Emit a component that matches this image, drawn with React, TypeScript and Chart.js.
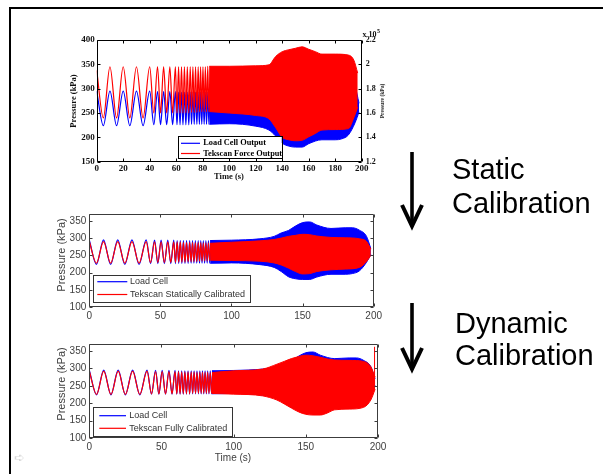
import React, { useEffect, useRef } from 'react';
import { Chart, registerables } from 'chart.js';
Chart.register(...registerables);

// ================= DATA =================
// Sine sweep section (0-85 s): times of the visible peaks / troughs
const sweepTimes = [
  0, 5, 10, 15, 20, 25, 30, 35, 40, 43.1, 45.9, 48.2, 50.5, 52.8, 55.2, 57.3, 59.4,
  60.6, 61.8, 62.9, 64.0, 65.1, 66.2, 67.3, 68.4, 69.5, 70.6, 71.6, 72.6, 73.6, 74.6,
  75.6, 76.6, 77.5, 78.4, 79.3, 80.2, 81.1, 82.0, 82.9, 83.8, 84.7, 85.5,
];
const loadCellSweep = [
  295, 224, 295, 224, 295, 224, 295, 224, 295, 226, 294, 226, 294, 226, 294, 226, 294,
  226, 293, 226, 293, 226, 293, 226, 293, 226, 293, 227, 293, 227, 293,
  227, 293, 227, 293, 227, 293, 227, 293, 227, 293, 227, 293,
];
const tekscanRawSweep = [
  1.95, 1.56, 1.98, 1.56, 1.98, 1.56, 1.98, 1.56, 1.98, 1.6, 1.98, 1.6, 1.98, 1.6, 1.98, 1.6, 1.98,
  1.6, 1.98, 1.6, 1.98, 1.6, 1.98, 1.6, 1.98, 1.6, 1.98, 1.605, 1.98, 1.605, 1.98,
  1.605, 1.98, 1.61, 1.98, 1.61, 1.98, 1.61, 1.98, 1.61, 1.984, 1.612, 1.984,
];
const tekscanStaticSweep = [
  290, 227, 290, 227, 290, 227, 290, 227, 290, 229, 289, 229, 289, 229, 289, 229, 289,
  229, 289, 230, 289, 230, 288, 230, 288, 231, 288, 231, 288, 232, 287,
  232, 287, 233, 287, 233, 286, 234, 286, 234, 286, 235, 285,
];
const tekscanFullSweep = [
  292, 225, 292, 225, 292, 225, 292, 225, 292, 227, 291, 227, 291, 227, 291, 227, 291,
  227, 291, 227, 290, 227, 290, 227, 290, 227, 290, 228, 290, 228, 289,
  228, 289, 228, 289, 228, 289, 228, 289, 228, 288, 228, 288,
];

// Dense section (85-200 s): envelope of the oscillation
const loadCellTimes = [85, 100, 120, 130, 135, 140, 145, 150, 155, 160, 170, 180, 185, 190, 195, 198];
const loadCellUpper = [293, 294, 298, 305, 315, 322, 335, 345, 347, 338, 328, 330, 330, 323, 305, 270];
const loadCellLower = [227, 228, 223, 215, 203, 188, 182, 180, 180, 187, 195, 195, 197, 205, 230, 252];

const tekscanRawTimes = [85, 100, 120, 130, 135, 140, 145, 150, 155, 160, 165, 170, 180, 190, 194, 197];
const tekscanRawUpper = [1.984, 1.984, 1.988, 1.996, 2.064, 2.104, 2.12, 2.132, 2.144, 2.124, 2.104, 2.084, 2.084, 2.076, 2.036, 1.928];
const tekscanRawLower = [1.612, 1.6, 1.58, 1.552, 1.48, 1.4, 1.38, 1.372, 1.376, 1.404, 1.432, 1.46, 1.464, 1.472, 1.56, 1.648];

const tekscanStaticTimes = [85, 100, 120, 130, 135, 140, 145, 150, 155, 160, 170, 180, 190, 195, 198];
const tekscanStaticUpper = [285, 288, 292, 296, 300, 305, 308, 311, 310, 306, 302, 301, 298, 290, 268];
const tekscanStaticLower = [236, 235, 233, 228, 222, 213, 203, 196, 197, 203, 208, 210, 215, 232, 250];

const tekscanFullTimes = [85, 100, 120, 130, 135, 140, 145, 150, 155, 160, 165, 170, 180, 190, 195, 198];
const tekscanFullUpper = [288, 293, 298, 312, 320, 328, 334, 338, 336, 332, 327, 324, 323, 320, 305, 275];
const tekscanFullLower = [228, 226, 221, 209, 198, 186, 175, 168, 166, 166, 172, 181, 183, 188, 209, 240];

// isolated spikes of the fully calibrated trace (pairs: start, end)
const tekscanFullSpikeTimes = [0, 0, 197.6, 197.6];
const tekscanFullSpikeValues = [100, 330, 255, 362];

// Tick values
const panel1TimeTicks = [0, 20, 40, 60, 80, 100, 120, 140, 160, 180, 200];
const panel1PressureTicks = [150, 200, 250, 300, 350, 400];
const panel1RawTicks = [1.2, 1.4, 1.6, 1.8, 2, 2.2];
const panelTimeTicks = [0, 50, 100, 150, 200];
const panelPressureTicks = [100, 150, 200, 250, 300, 350];

// Legend labels
const panel1Legend = ['Load Cell Output', 'Tekscan Force Output'];
const panel2Legend = ['Load Cell', 'Tekscan Statically Calibrated'];
const panel3Legend = ['Load Cell', 'Tekscan Fully Calibrated'];

// ================= STYLE =================
const BLUE = '#0000ff';
const RED = '#ff0000';
const SERIF_B = (s: number) => `bold ${s}px "Liberation Serif", "Times New Roman", serif`;
const SANS = (s: number) => `${s}px "Liberation Sans", Arial, sans-serif`;

const pts = (t: number[], v: number[]) => t.map((x, i) => ({ x, y: v[i] }));

function lineDs(t: number[], v: number[], color: string, extra: any = {}) {
  return {
    data: pts(t, v), borderColor: color, backgroundColor: color, borderWidth: 1.2,
    pointRadius: 0, fill: false, cubicInterpolationMode: 'monotone', ...extra,
  };
}
function bandDs(t: number[], up: number[], lo: number[], color: string, extra: any = {}) {
  return [
    { data: pts(t, up), borderColor: color, backgroundColor: color, borderWidth: 1, pointRadius: 0, fill: '+1', cubicInterpolationMode: 'monotone', ...extra },
    { data: pts(t, lo), borderColor: color, backgroundColor: color, borderWidth: 1, pointRadius: 0, fill: false, cubicInterpolationMode: 'monotone', ...extra },
  ];
}
function spikeDs(t: number[], v: number[], color: string, extra: any = {}) {
  const data: any[] = [];
  for (let i = 0; i < t.length; i += 2) {
    if (i > 0) data.push({ x: (t[i - 1] + t[i]) / 2, y: null });
    data.push({ x: t[i], y: v[i] }, { x: t[i + 1], y: v[i + 1] });
  }
  return { data, borderColor: color, borderWidth: 1, pointRadius: 0, fill: false, spanGaps: false, tension: 0, ...extra };
}

// ================= PLUGINS =================
function boxPlugin(cfg: { color: string; tick: number }) {
  return {
    id: 'matlabBox',
    afterDatasetsDraw(chart: any) {
      const { ctx, chartArea: a, scales } = chart;
      const L = cfg.tick;
      const l = Math.round(a.left) + 0.5, r = Math.round(a.right) - 0.5;
      const tp = Math.round(a.top) + 0.5, b = Math.round(a.bottom) - 0.5;
      ctx.save();
      ctx.strokeStyle = cfg.color;
      ctx.lineWidth = 1;
      ctx.beginPath();
      ctx.rect(l, tp, r - l, b - tp);
      for (const t of scales.x.ticks) {
        const px = Math.round(scales.x.getPixelForValue(t.value)) + 0.5;
        ctx.moveTo(px, b); ctx.lineTo(px, b - L);
        ctx.moveTo(px, tp); ctx.lineTo(px, tp + L);
      }
      for (const t of scales.y.ticks) {
        const py = Math.round(scales.y.getPixelForValue(t.value)) + 0.5;
        ctx.moveTo(l, py); ctx.lineTo(l + L, py);
        if (!scales.y2) { ctx.moveTo(r, py); ctx.lineTo(r - L, py); }
      }
      if (scales.y2) {
        for (const t of scales.y2.ticks) {
          const py = Math.round(scales.y2.getPixelForValue(t.value)) + 0.5;
          ctx.moveTo(r, py); ctx.lineTo(r - L, py);
        }
      }
      ctx.stroke();
      ctx.restore();
    },
  };
}

function legendPlugin(cfg: any) {
  return {
    id: 'matlabLegend',
    afterDraw(chart: any) {
      const ctx = chart.ctx;
      ctx.save();
      ctx.fillStyle = '#fff';
      ctx.fillRect(cfg.x, cfg.y, cfg.w, cfg.h);
      ctx.strokeStyle = cfg.border;
      ctx.lineWidth = 1;
      ctx.strokeRect(Math.round(cfg.x) + 0.5, Math.round(cfg.y) + 0.5, Math.round(cfg.w), Math.round(cfg.h));
      ctx.font = cfg.font;
      ctx.textBaseline = 'middle';
      ctx.textAlign = 'left';
      cfg.labels.forEach((label: string, i: number) => {
        const y = cfg.rows[i];
        ctx.strokeStyle = cfg.colors[i];
        ctx.lineWidth = 1.2;
        ctx.beginPath();
        ctx.moveTo(cfg.x1, y); ctx.lineTo(cfg.x2, y);
        ctx.stroke();
        ctx.fillStyle = cfg.textColor;
        ctx.fillText(label, cfg.tx, y);
      });
      ctx.restore();
    },
  };
}

function textPlugin(items: any[]) {
  return {
    id: 'matlabText',
    afterDraw(chart: any) {
      const ctx = chart.ctx;
      for (const it of items) {
        ctx.save();
        ctx.translate(it.x, it.y);
        if (it.rot) ctx.rotate(it.rot);
        ctx.font = it.font;
        ctx.fillStyle = it.color;
        ctx.textAlign = it.align || 'center';
        ctx.textBaseline = 'middle';
        ctx.fillText(it.text, 0, 0);
        ctx.restore();
      }
    },
  };
}

function parseFont(f: string) {
  const bold = f.startsWith('bold');
  const m = f.match(/([\d.]+)px (.*)$/);
  return { size: m ? parseFloat(m[1]) : 10, family: m ? m[2] : 'sans-serif', weight: bold ? 'bold' : 'normal' };
}

function scale(opts: {
  ticks: number[]; min: number; max: number; font: string; color: string; padding: number;
  size: number; isX?: boolean; position?: string; format?: (v: number) => string;
}) {
  return {
    type: 'linear',
    position: opts.position,
    min: opts.min,
    max: opts.max,
    grid: { display: false, drawTicks: false },
    border: { display: false },
    afterBuildTicks: (s: any) => { s.ticks = opts.ticks.map((v) => ({ value: v })); },
    afterFit: (s: any) => { if (opts.isX) s.height = opts.size; else s.width = opts.size; },
    ticks: {
      autoSkip: false,
      maxRotation: 0,
      padding: opts.padding,
      color: opts.color,
      font: parseFont(opts.font),
      callback: (v: any) => (opts.format ? opts.format(Number(v)) : String(v)),
    },
  };
}

// ================= CHART CONFIGS =================
function buildChart1() {
  const datasets = [
    lineDs(sweepTimes, loadCellSweep, BLUE, { order: 2 }),
    ...bandDs(loadCellTimes, loadCellUpper, loadCellLower, BLUE, { order: 2 }),
    lineDs(sweepTimes, tekscanRawSweep, RED, { order: 1, yAxisID: 'y2' }),
    ...bandDs(tekscanRawTimes, tekscanRawUpper, tekscanRawLower, RED, { order: 1, yAxisID: 'y2' }),
  ];
  const tc = '#111';
  return {
    type: 'line',
    data: { datasets },
    options: {
      responsive: false, animation: false, events: [],
      layout: { padding: { top: 12, left: 0, right: 0, bottom: 0 } },
      plugins: { legend: { display: false }, tooltip: { enabled: false } },
      scales: {
        x: scale({ ticks: panel1TimeTicks, min: 0, max: 200, font: SERIF_B(9), color: tc, padding: 2, size: 26.3, isX: true }),
        y: scale({ ticks: panel1PressureTicks, min: 150, max: 400, font: SERIF_B(9), color: tc, padding: 2, size: 46.7, position: 'left' }),
        y2: scale({ ticks: panel1RawTicks, min: 1.2, max: 2.2, font: SERIF_B(8), color: tc, padding: 4, size: 33.3, position: 'right', format: (v) => String(Math.round(v * 10) / 10) }),
      },
    },
    plugins: [
      boxPlugin({ color: '#000', tick: 3 }),
      legendPlugin({ x: 127.7, y: 108, w: 104, h: 22.3, rows: [115.3, 125.5], x1: 131, x2: 150, tx: 153.3, labels: panel1Legend, colors: [BLUE, RED], font: SERIF_B(8.3), textColor: '#000', border: '#000' }),
      textPlugin([
        { text: 'Pressure (kPa)', x: 24, y: 73, rot: -Math.PI / 2, font: SERIF_B(8.5), color: '#111' },
        { text: 'Time (s)', x: 179, y: 149, font: SERIF_B(8.5), color: '#111' },
        { text: 'Pressure (kPa)', x: 333, y: 73, rot: -Math.PI / 2, font: SERIF_B(5.5), color: '#222' },
        { text: 'x 10', x: 312.5, y: 7, align: 'left', font: SERIF_B(8), color: '#111' },
        { text: '5', x: 327, y: 3.5, align: 'left', font: SERIF_B(6), color: '#111' },
      ]),
    ],
  };
}

function buildPanel(tekSweep: number[], tekTimes: number[], tekU: number[], tekL: number[], legend: string[], rightPad: number, bottom: number, legendCfg: any, texts: any[], withSpikes: boolean) {
  const datasets: any[] = [
    lineDs(sweepTimes, loadCellSweep, BLUE, { order: 2 }),
    ...bandDs(loadCellTimes, loadCellUpper, loadCellLower, BLUE, { order: 2 }),
    lineDs(sweepTimes, tekSweep, RED, { order: 1 }),
    ...bandDs(tekTimes, tekU, tekL, RED, { order: 1 }),
  ];
  if (withSpikes) datasets.push(spikeDs(tekscanFullSpikeTimes, tekscanFullSpikeValues, RED, { order: 0 }));
  const tc = '#404040';
  return {
    type: 'line',
    data: { datasets },
    options: {
      responsive: false, animation: false, events: [],
      layout: { padding: { top: legendCfg.top, left: 0, right: rightPad, bottom: 0 } },
      plugins: { legend: { display: false }, tooltip: { enabled: false } },
      scales: {
        x: scale({ ticks: panelTimeTicks, min: 0, max: 200, font: SANS(10), color: tc, padding: 3, size: bottom, isX: true }),
        y: scale({ ticks: panelPressureTicks, min: 100, max: 370, font: SANS(10), color: tc, padding: 3, size: 49.3, position: 'left' }),
      },
    },
    plugins: [
      boxPlugin({ color: '#3c3c3c', tick: 3 }),
      legendPlugin({ ...legendCfg, labels: legend, colors: [BLUE, RED], font: SANS(9), textColor: '#333', border: '#333' }),
      textPlugin(texts),
    ],
  };
}

function buildChart2() {
  return buildPanel(tekscanStaticSweep, tekscanStaticTimes, tekscanStaticUpper, tekscanStaticLower, panel2Legend, 11, 16,
    { top: 7, x: 53.3, y: 70, w: 156.7, h: 26.7, rows: [76.7, 89.5], x1: 57.3, x2: 87.3, tx: 90 },
    [{ text: 'Pressure (kPa)', x: 21.7, y: 50, rot: -Math.PI / 2, font: SANS(11), color: '#404040' }], false);
}
function buildChart3() {
  return buildPanel(tekscanFullSweep, tekscanFullTimes, tekscanFullUpper, tekscanFullLower, panel3Legend, 12, 32,
    { top: 8, x: 53.3, y: 72.3, w: 139.4, h: 29.4, rows: [80.7, 93.3], x1: 59.3, x2: 86, tx: 89.3 },
    [
      { text: 'Pressure (kPa)', x: 21.7, y: 49, rot: -Math.PI / 2, font: SANS(11), color: '#404040' },
      { text: 'Time (s)', x: 193, y: 123.3, font: SANS(10), color: '#404040' },
    ], true);
}

function ChartCanvas({ left, top, width, height, build }: any) {
  const ref = useRef<HTMLCanvasElement>(null);
  useEffect(() => {
    const chart = new Chart(ref.current as HTMLCanvasElement, build());
    return () => chart.destroy();
  }, []);
  return <canvas ref={ref} width={width} height={height} style={{ position: 'absolute', left, top, width, height }} />;
}

const slideFont = '29px "Liberation Sans", Arial, sans-serif';

export default function App() {
  return (
    <div style={{ position: 'fixed', left: 0, top: 0, width: 603, height: 474, background: '#fff', overflow: 'hidden' }}>
      <div style={{ position: 'absolute', left: 9, top: 7, width: 700, height: 600, borderTop: '2px solid #000', borderLeft: '2px solid #000' }} />
      <ChartCanvas left={50} top={28} width={345} height={160} build={buildChart1} />
      <ChartCanvas left={40} top={205} width={345} height={118} build={buildChart2} />
      <ChartCanvas left={40} top={335} width={350} height={135} build={buildChart3} />
      <svg width={603} height={474} style={{ position: 'absolute', left: 0, top: 0, pointerEvents: 'none' }}>
        <g stroke="#000" fill="none" strokeWidth={3.6}>
          <line x1={412} y1={152} x2={412} y2={224} />
          <polyline points="402,205 412,226 422,205" strokeWidth={4} />
          <line x1={412} y1={303} x2={412} y2={367} />
          <polyline points="402,348 412,369 422,348" strokeWidth={4} />
        </g>
      </svg>
      <div style={{ position: 'absolute', left: 452, top: 152, font: slideFont, lineHeight: '34px', color: '#000', whiteSpace: 'nowrap' }}>
        Static<br />Calibration
      </div>
      <div style={{ position: 'absolute', left: 455, top: 307, font: slideFont, lineHeight: '32px', color: '#000', whiteSpace: 'nowrap' }}>
        Dynamic<br />Calibration
      </div>
      <div style={{ position: 'absolute', left: 14, top: 450, font: '13px "DejaVu Sans", sans-serif', color: '#d8d8d8' }}>➪</div>
    </div>
  );
}
